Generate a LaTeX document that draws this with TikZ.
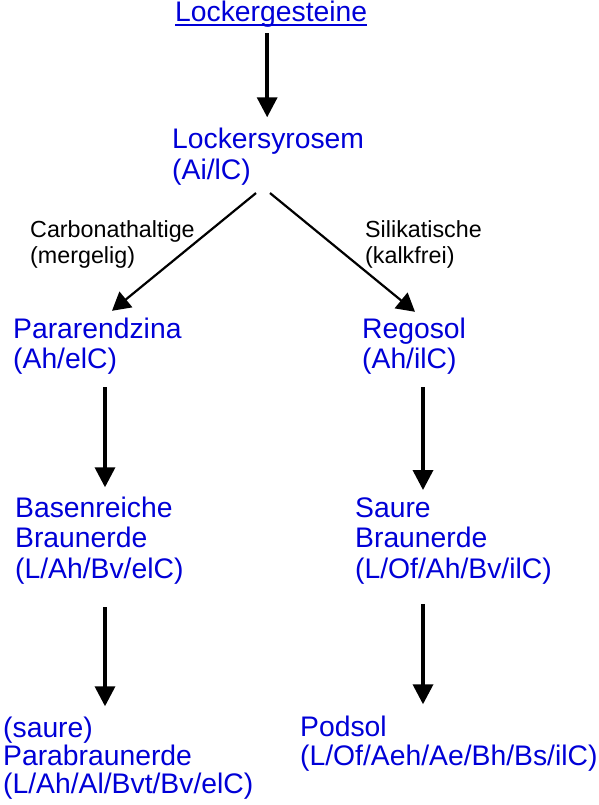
\documentclass[tikz,border=0pt]{standalone}
\usepackage{fontspec}
\setmainfont{Liberation Sans}
\usepackage{tikz}
\usetikzlibrary{arrows.meta, positioning, calc}
\definecolor{soilblue}{RGB}{0, 0, 215}

\begin{document}
\begin{tikzpicture}[x=1pt, y=-1pt,
    soil/.style={anchor=base west, inner sep=0pt, align=left,
                 text=soilblue, font=\fontsize{28.3}{#1}\selectfont},
    soil/.default=29.5,
    branch/.style={anchor=base west, inner sep=0pt, align=left,
                   font=\fontsize{23.3}{26}\selectfont},
    down/.style={-{Triangle[length=20pt,width=20pt]}, line width=3.5pt},
    split/.style={-{Triangle[length=18pt,width=20pt]}, line width=2.2pt}]
    \useasboundingbox (0,0) rectangle (598,805);

    % parent material and first soil (nodes sit on their last baseline)
    \node[soil] (lg) at (175,22) {Lockergesteine};
    \draw[soilblue, line width=2pt] ([yshift=-3pt]lg.base west) -- ([yshift=-3pt]lg.base east);
    \node[soil=31] (ls) at (172,179) {Lockersyrosem\\(Ai/lC)};

    % the two branches
    \node[branch] (carb) at (30,263) {Carbonathaltige\\(mergelig)};
    \node[branch] (sili) at (365,263) {Silikatische\\(kalkfrei)};

    % left column
    \node[soil] (pa) at (13,368) {Pararendzina\\(Ah/elC)};
    \node[soil=30.5] (bb) at (15,578) {Basenreiche\\Braunerde\\(L/Ah/Bv/elC)};
    \node[soil=28] (pb) at (3,793) {(saure)\\Parabraunerde\\(L/Ah/Al/Bvt/Bv/elC)};

    % right column
    \node[soil] (re) at (362,368) {Regosol\\(Ah/ilC)};
    \node[soil=30.5] (sb) at (355,578) {Saure\\Braunerde\\(L/Of/Ah/Bv/ilC)};
    \node[soil=29] (po) at (300,765) {Podsol\\(L/Of/Aeh/Ae/Bh/Bs/ilC)};

    % arrows
    \draw[down, shorten <=5pt, shorten >=10pt] ([xshift=-4pt]lg.south) -- ([xshift=-4pt]lg.south |- ls.north);
    \draw[split] ([xshift=84pt,yshift=-8pt]ls.south west) -- ([xshift=99pt,yshift=7pt]pa.north west);
    \draw[split] ([xshift=98pt,yshift=-8pt]ls.south west) -- ([xshift=53pt,yshift=6pt]re.north west);
    \draw[down, shorten <=13pt, shorten >=9pt] ([xshift=92pt]pa.south west) -- ([xshift=92pt]pa.south west |- bb.north);
    \draw[down, shorten <=13pt, shorten >=7pt] ([xshift=61pt]re.south west) -- ([xshift=61pt]re.south west |- sb.north);
    \draw[down, shorten <=23pt, shorten >=10pt] ([xshift=90pt]bb.south west) -- ([xshift=90pt]bb.south west |- pb.north);
    \draw[down, shorten <=20pt, shorten >=11pt] ([xshift=68pt]sb.south west) -- ([xshift=68pt]sb.south west |- po.north);
\end{tikzpicture}
\end{document}
